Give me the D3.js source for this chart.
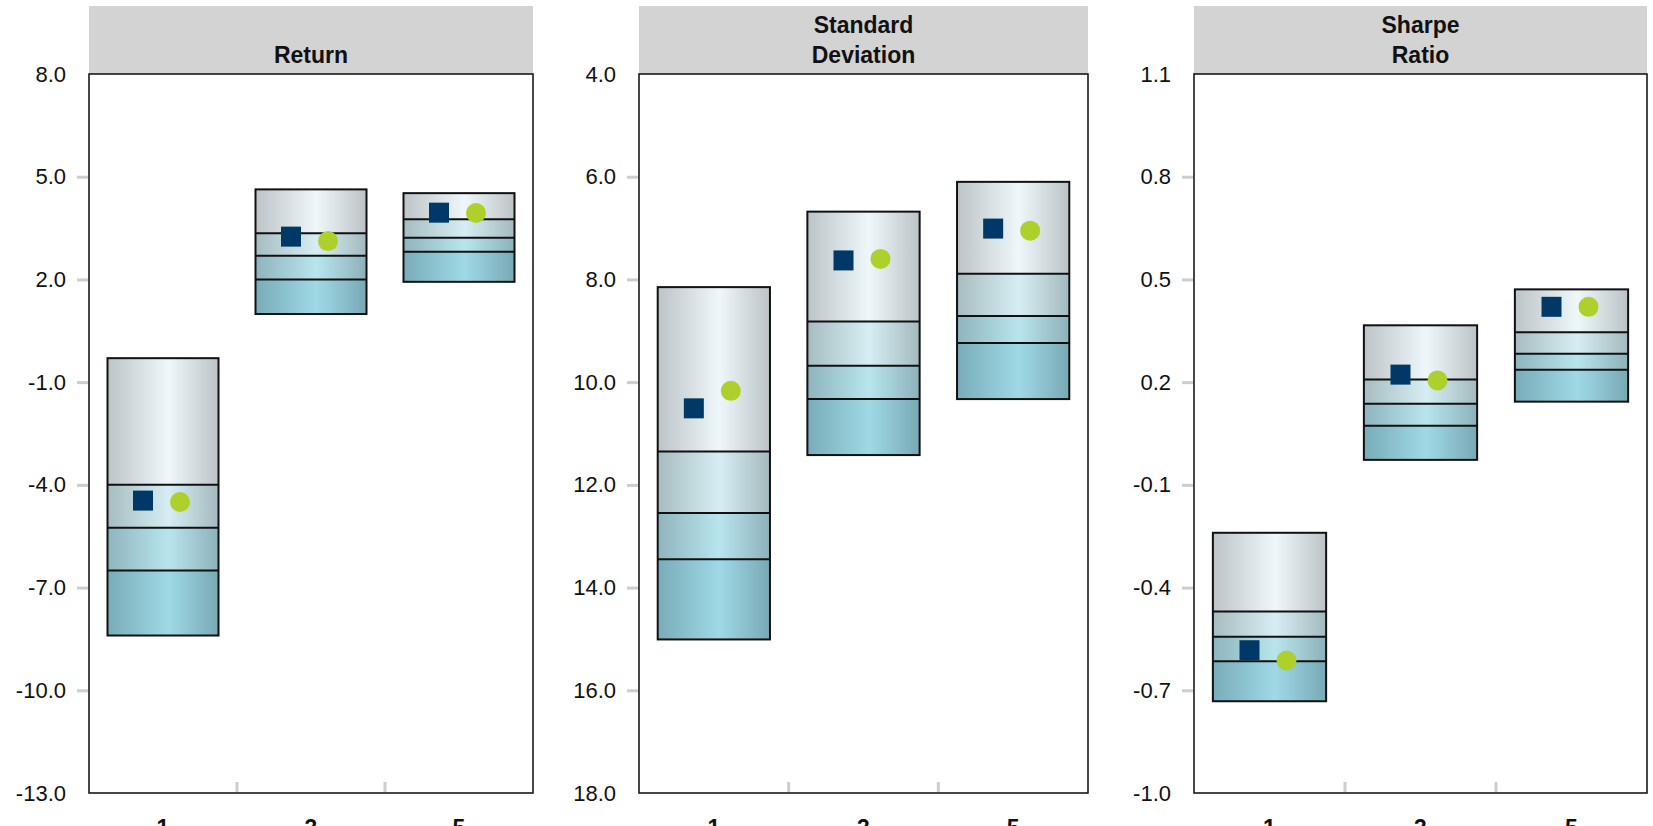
<!DOCTYPE html>
<html>
<head>
<meta charset="utf-8">
<script src="https://cdn.jsdelivr.net/npm/d3@7"></script>
<style>
  html, body { margin: 0; padding: 0; background: #fff; }
  svg { display: block; font-family: "Liberation Sans", Arial, sans-serif; }
</style>
</head>
<body>
<svg id="chart" width="1653" height="826"></svg>
<script>
// ---------- data ----------
const categories = ["1", "3", "5"];
const panelTitles = [["Return"], ["Standard", "Deviation"], ["Sharpe", "Ratio"]];

// box edges per category: [top, line1, line2, line3, bottom]
const returnBoxes = [
  [-0.3, -4.0, -5.25, -6.5, -8.4],
  [4.63, 3.35, 2.69, 2.0, 0.99],
  [4.52, 3.76, 3.22, 2.81, 1.93]
];
const returnSquare = [-4.46, 3.25, 3.95];
const returnCircle = [-4.5, 3.12, 3.94];

const sdBoxes = [
  [8.15, 11.35, 12.55, 13.45, 15.01],
  [6.68, 8.82, 9.68, 10.33, 11.42],
  [6.10, 7.89, 8.71, 9.24, 10.33]
];
const sdSquare = [10.51, 7.63, 7.01];
const sdCircle = [10.17, 7.6, 7.05];

const sharpeBoxes = [
  [-0.24, -0.47, -0.544, -0.615, -0.732],
  [0.366, 0.208, 0.137, 0.073, -0.027],
  [0.471, 0.346, 0.283, 0.236, 0.143]
];
const sharpeSquare = [-0.583, 0.222, 0.42];
const sharpeCircle = [-0.613, 0.205, 0.42];

const returnTicks = [8.0, 5.0, 2.0, -1.0, -4.0, -7.0, -10.0, -13.0];
const sdTicks = [4.0, 6.0, 8.0, 10.0, 12.0, 14.0, 16.0, 18.0];
const sharpeTicks = [1.1, 0.8, 0.5, 0.2, -0.1, -0.4, -0.7, -1.0];

// ---------- layout ----------
const panels = [
  { boxes: returnBoxes, sq: returnSquare, ci: returnCircle, ticks: returnTicks, left: 89, right: 533 },
  { boxes: sdBoxes, sq: sdSquare, ci: sdCircle, ticks: sdTicks, left: 639, right: 1088 },
  { boxes: sharpeBoxes, sq: sharpeSquare, ci: sharpeCircle, ticks: sharpeTicks, left: 1194, right: 1647 }
];
const stripTop = 6, plotTop = 74, plotBottom = 793;

const svg = d3.select("#chart");
const defs = svg.append("defs");

const segColors = [
  ["#bcc4c7", "#eef7f9", "#bbc3c6"],
  ["#a6bcc1", "#d6eef3", "#a3b9be"],
  ["#8fb4bd", "#b8e5ed", "#8db1ba"],
  ["#78acb8", "#9fd9e6", "#78a9b4"]
];
segColors.forEach((c, i) => {
  const g = defs.append("linearGradient").attr("id", "seg" + i)
    .attr("x1", "0").attr("x2", "1").attr("y1", "0").attr("y2", "0");
  g.append("stop").attr("offset", "0").attr("stop-color", c[0]);
  g.append("stop").attr("offset", "0.55").attr("stop-color", c[1]);
  g.append("stop").attr("offset", "1").attr("stop-color", c[2]);
});

const fmt = v => d3.format(".1f")(v).replace("\u2212", "-");

panels.forEach((p, pi) => {
  const g = svg.append("g");
  const y = d3.scaleLinear()
    .domain([p.ticks[0], p.ticks[p.ticks.length - 1]])
    .range([plotTop, plotBottom]);
  const x = d3.scaleBand().domain(categories).range([p.left, p.right]).padding(0);
  const bw = x.bandwidth();
  const boxW = bw * 0.75;

  // strip
  g.append("rect")
    .attr("x", p.left).attr("y", stripTop)
    .attr("width", p.right - p.left).attr("height", plotTop - stripTop)
    .attr("fill", "#d3d3d3");
  const lines = panelTitles[pi];
  const cx = (p.left + p.right) / 2;
  lines.forEach((t, li) => {
    g.append("text")
      .attr("x", cx)
      .attr("y", 62.5 - (lines.length - 1 - li) * 30)
      .attr("text-anchor", "middle")
      .attr("font-size", 23).attr("font-weight", "bold")
      .attr("fill", "#111")
      .text(t);
  });

  // plot frame
  g.append("rect")
    .attr("x", p.left).attr("y", plotTop)
    .attr("width", p.right - p.left).attr("height", plotBottom - plotTop)
    .attr("fill", "#fff").attr("stroke", "#1a1a1a").attr("stroke-width", 1.6);

  // y axis
  const yAxis = d3.axisLeft(y)
    .tickValues(p.ticks)
    .tickFormat(fmt)
    .tickSize(11)
    .tickPadding(11);
  const ag = g.append("g").attr("transform", `translate(${p.left - 1},0)`).call(yAxis);
  ag.select(".domain").remove();
  ag.selectAll(".tick line")
    .attr("stroke", "#c9ced3").attr("stroke-width", 3)
    .attr("opacity", (d, i) => (i === 0 || i === p.ticks.length - 1) ? 0 : 1);
  ag.selectAll(".tick text")
    .attr("font-size", 22).attr("fill", "#111")
    .attr("font-family", "Liberation Sans, Arial, sans-serif");

  // x band boundary ticks
  categories.slice(1).forEach(c => {
    g.append("line")
      .attr("x1", x(c)).attr("x2", x(c))
      .attr("y1", plotBottom - 11).attr("y2", plotBottom - 1)
      .attr("stroke", "#c9ced3").attr("stroke-width", 3);
  });
  // x labels (cut by the bottom edge, as in the reference)
  categories.forEach(c => {
    g.append("text")
      .attr("x", x(c) + bw / 2).attr("y", 836)
      .attr("text-anchor", "middle")
      .attr("font-size", 23).attr("font-weight", "bold").attr("fill", "#111")
      .text(c);
  });

  // boxes
  categories.forEach((c, ci) => {
    const b = p.boxes[ci];
    const bx = x(c) + (bw - boxW) / 2;
    for (let s = 0; s < 4; s++) {
      const y0 = y(b[s]), y1 = y(b[s + 1]);
      g.append("rect")
        .attr("x", bx).attr("y", Math.min(y0, y1))
        .attr("width", boxW).attr("height", Math.abs(y1 - y0))
        .attr("fill", `url(#seg${s})`);
    }
    for (let s = 1; s < 4; s++) {
      g.append("line")
        .attr("x1", bx).attr("x2", bx + boxW)
        .attr("y1", y(b[s])).attr("y2", y(b[s]))
        .attr("stroke", "#111").attr("stroke-width", 2);
    }
    g.append("rect")
      .attr("x", bx).attr("y", Math.min(y(b[0]), y(b[4])))
      .attr("width", boxW).attr("height", Math.abs(y(b[4]) - y(b[0])))
      .attr("fill", "none").attr("stroke", "#111").attr("stroke-width", 2);

    const center = x(c) + bw / 2;
    g.append("rect")
      .attr("x", center - 20 - 10).attr("y", y(p.sq[ci]) - 10)
      .attr("width", 20).attr("height", 20)
      .attr("fill", "#003868");
    g.append("circle")
      .attr("cx", center + 17).attr("cy", y(p.ci[ci]))
      .attr("r", 10)
      .attr("fill", "#aed02a");
  });
});
</script>
</body>
</html>
